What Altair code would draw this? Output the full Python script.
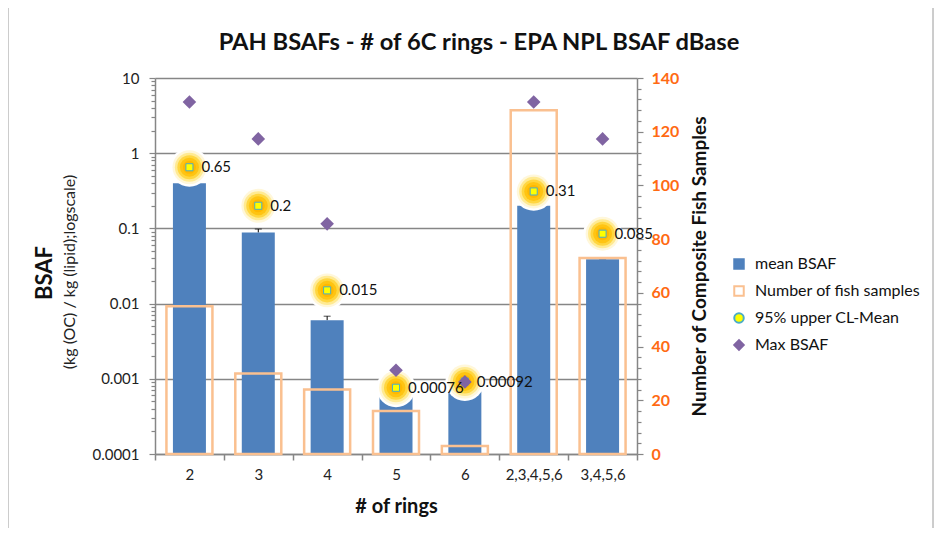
import altair as alt
import pandas as pd

# ---------------- data ----------------
categories = ["2", "3", "4", "5", "6", "2,3,4,5,6", "3,4,5,6"]
mean_bsaf = [0.40, 0.088, 0.0060, 0.00060, 0.00068, 0.20, 0.039]
err_upper = [0.43, 0.098, 0.0068, 0.00064, 0.00072, 0.21, 0.039]
fish_samples = [55, 30, 24, 16, 3, 128, 73]
ucl_mean = [0.65, 0.2, 0.015, 0.00076, 0.00092, 0.31, 0.085]
ucl_labels = ["0.65", "0.2", "0.015", "0.00076", "0.00092", "0.31", "0.085"]
max_bsaf = [4.8, 1.55, 0.115, 0.0013, 0.00091, 4.8, 1.55]

legend_names = ["mean BSAF", "Number of fish samples", "95% upper CL-Mean", "Max BSAF"]
left_decades = [0.0001, 0.001, 0.01, 0.1, 1, 10]
right_ticks = list(range(0, 141, 4))

chart_title = "PAH BSAFs - # of 6C rings - EPA NPL BSAF dBase"
y_title_main = "BSAF"
y_title_sub = "(kg (OC) / kg (lipid);logscale)"
x_title = "# of rings"
y2_title = "Number of Composite Fish Samples"

FONT = "Lato"
BLUE = "#4F81BD"
ORANGE_LINE = "#FAC090"
PURPLE = "#8064A2"
AXIS_GRAY = "#868686"

df = pd.DataFrame({
    "rings": categories,
    "mean": mean_bsaf,
    "err": err_upper,
    "fish": fish_samples,
    "ucl": ucl_mean,
    "ucl_label": ucl_labels,
    "maxv": max_bsaf,
})

left_values = []
for d in left_decades[:-1]:
    for k in range(1, 10):
        left_values.append(d * k)
left_values.append(left_decades[-1])

is_decade = "abs(log(datum.value)/LN10 - round(log(datum.value)/LN10)) < 0.001"

W, H = 482, 376

x_enc = alt.X(
    "rings:N", sort=categories,
    scale=alt.Scale(paddingInner=0, paddingOuter=0),
    axis=alt.Axis(
        title=x_title, labelAngle=0, tickBand="extent", tickSize=6,
        labelFontSize=15, labelPadding=7, labelColor="#222",
        titleFontSize=20, titleFontWeight="bold", titlePadding=14, titleColor="#111",
        domainColor=AXIS_GRAY, tickColor=AXIS_GRAY, domainWidth=1.5, tickWidth=1.5,
    ),
)

yl_scale = alt.Scale(type="log", domain=[0.0001, 10], nice=False)
yr_scale = alt.Scale(domain=[0, 140], nice=False, zero=True)

left_axis = alt.Axis(
    orient="left", title=None, values=left_values,
    labelExpr=f"({is_decade}) ? toString(datum.value) : ''",
    tickSize={"condition": {"test": is_decade, "value": 6}, "value": 4},
    grid=True,
    gridOpacity={"condition": {"test": is_decade, "value": 1}, "value": 0},
    gridColor=AXIS_GRAY, gridWidth=1.5,
    labelFontSize=15, labelPadding=10, labelColor="#222",
    domainColor=AXIS_GRAY, tickColor=AXIS_GRAY, domainWidth=1.5, tickWidth=1.2,
)

right_axis = alt.Axis(
    orient="right", title=y2_title, values=right_ticks,
    labelExpr="datum.value % 20 == 0 ? datum.label : ''",
    tickSize={"condition": {"test": "datum.value % 20 == 0", "value": 6}, "value": 4},
    grid=False,
    labelFontSize=16, labelFontWeight="bold", labelColor="#FF6A13", labelPadding=8,
    titleFontSize=19, titleFontWeight="bold", titleAngle=270,
    titleX=62, titleY=188, titleAlign="center", titleBaseline="middle",
    titleColor="#111",
    domainColor=AXIS_GRAY, tickColor=AXIS_GRAY, domainWidth=1.5, tickWidth=1.2,
)

base = alt.Chart(df)

err_rule = base.mark_rule(color="black", strokeWidth=1).encode(
    x=x_enc, y=alt.Y("mean:Q", scale=yl_scale, axis=left_axis), y2="err:Q")
err_cap = base.mark_tick(color="black", thickness=1, size=7, orient="horizontal").encode(
    x=x_enc, y=alt.Y("err:Q", scale=yl_scale, axis=left_axis))
blue_bars = base.mark_bar(size=33, color=BLUE).encode(
    x=x_enc,
    y=alt.Y("mean:Q", scale=yl_scale, axis=left_axis),
    y2=alt.datum(left_decades[0]),
)
blue_group = alt.layer(err_rule, err_cap, blue_bars)

outline_bars = base.mark_bar(size=46, fillOpacity=0, stroke=ORANGE_LINE, strokeWidth=2.5).encode(
    x=x_enc,
    y=alt.Y("fish:Q", scale=yr_scale, axis=right_axis),
)

def ly(field):
    return alt.Y(f"{field}:Q", scale=yl_scale, axis=None)

glow_specs = [
    (1500, "#FFFFFF"),
    (1150, "#FFF7DA"),
    (850, "#FFEA92"),
    (580, "#FFD640"),
    (360, "#FFC412"),
    (170, "#FFB800"),
]
glows = [
    base.mark_circle(size=s, color=c, opacity=1).encode(x=x_enc, y=ly("ucl"))
    for s, c in glow_specs
]

ucl_pts = base.mark_point(shape="square", filled=True, fill="#FFFF00", stroke="#4BACC6",
                          strokeWidth=1, size=50, opacity=1).encode(x=x_enc, y=ly("ucl"))

max_pts = base.mark_point(shape="diamond", filled=True, color=PURPLE, size=185, opacity=1).encode(
    x=x_enc, y=ly("maxv"))

ucl_text = base.mark_text(align="left", baseline="middle", dx=12, fontSize=15, font=FONT,
                          color="#111").encode(x=x_enc, y=ly("ucl"), text="ucl_label:N")

leg = alt.Legend(orient="none", legendX=576, legendY=178, title=None, labelFontSize=16,
                 labelFont=FONT, labelColor="#111", labelLimit=400, symbolSize=90, rowPadding=9,
                 labelOffset=8, padding=0, symbolStrokeWidth=2)
legend_df = pd.DataFrame({"series": legend_names})
legend_layer = alt.Chart(legend_df).mark_point(filled=True, size=90, opacity=1, strokeWidth=2).encode(
    x=alt.value(3000), y=alt.value(3000),
    fill=alt.Fill("series:N", sort=legend_names,
                  scale=alt.Scale(domain=legend_names, range=[BLUE, "#FFFFFF", "#FFFF00", PURPLE]),
                  legend=leg),
    stroke=alt.Stroke("series:N", sort=legend_names,
                      scale=alt.Scale(domain=legend_names, range=[BLUE, ORANGE_LINE, "#4BACC6", PURPLE]),
                      legend=leg),
    shape=alt.Shape("series:N", sort=legend_names,
                    scale=alt.Scale(domain=legend_names, range=["square", "square", "circle", "diamond"]),
                    legend=leg),
)

title_text = alt.Chart(pd.DataFrame({"t": [chart_title]})).mark_text(
    align="center", baseline="middle", fontSize=23.7, fontWeight="bold", font=FONT, color="#111"
).encode(text="t:N", x=alt.value(324), y=alt.value(-35))
ytitle_main = alt.Chart(pd.DataFrame({"t": [y_title_main]})).mark_text(
    angle=270, align="center", baseline="middle", fontSize=22, fontWeight="bold", font=FONT, color="#111"
).encode(text="t:N", x=alt.value(-110), y=alt.value(195))
ytitle_sub = alt.Chart(pd.DataFrame({"t": [y_title_sub]})).mark_text(
    angle=270, align="center", baseline="middle", fontSize=16, font=FONT, color="#222"
).encode(text="t:N", x=alt.value(-85), y=alt.value(194))

frame = alt.Chart(pd.DataFrame({"t": [0]})).mark_rect(fillOpacity=0, stroke="#9A9A9A", strokeWidth=1).encode(
    x=alt.value(-147), x2=alt.value(778), y=alt.value(-90), y2=alt.value(470))

rest = alt.layer(*glows, ucl_pts, max_pts, ucl_text,
                 legend_layer, title_text, ytitle_main, ytitle_sub, frame)

chart = alt.layer(blue_group, outline_bars, rest).resolve_scale(y="independent").properties(
    width=W, height=H,
    padding={"left": 147, "top": 70, "right": 297, "bottom": 74},
    autosize="none",
).configure(font=FONT, background="white").configure_view(stroke=None)

chart.save("out.html", embed_options={"renderer": "svg", "actions": False})
